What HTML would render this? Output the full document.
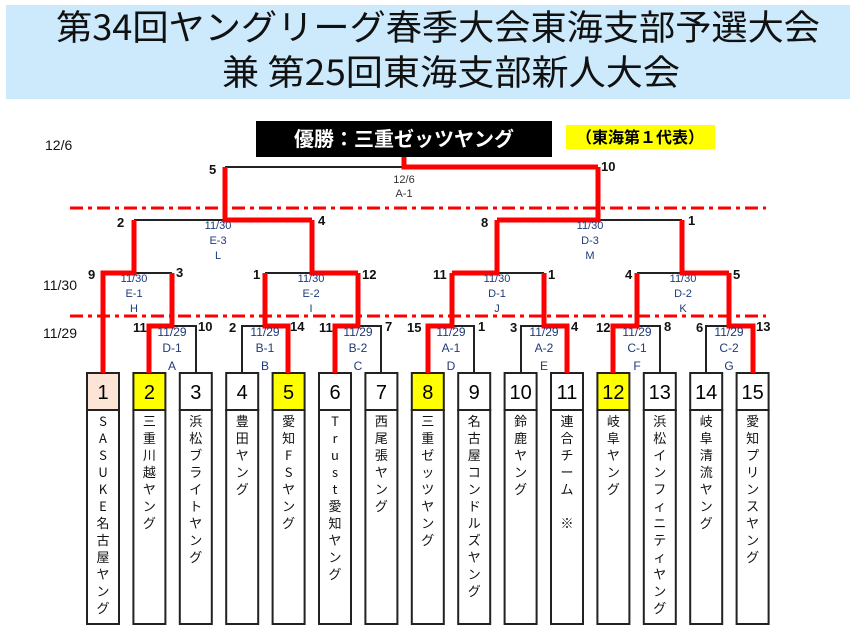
<!DOCTYPE html>
<html><head><meta charset="utf-8">
<style>
html,body{margin:0;padding:0;background:#fff;}
body{width:856px;height:628px;overflow:hidden;position:relative;font-family:"Liberation Sans","Noto Sans CJK JP",sans-serif;}
svg{position:absolute;left:0;top:0;}
</style></head><body>
<svg width="856" height="628" viewBox="0 0 856 628" xmlns="http://www.w3.org/2000/svg" font-family="Liberation Sans, Noto Sans CJK JP, sans-serif">
<rect x="6" y="5" width="844" height="94" fill="#cdeafc"/>
<g font-family="Noto Sans CJK JP, sans-serif" font-size="35" fill="#111" text-anchor="middle">
<text x="438" y="40" textLength="764" lengthAdjust="spacingAndGlyphs">第34回ヤングリーグ春季大会東海支部予選大会</text>
<text x="451" y="85" textLength="458" lengthAdjust="spacingAndGlyphs">兼 第25回東海支部新人大会</text>
</g>
<rect x="256" y="121" width="296" height="36" fill="#000"/>
<text x="404" y="146" font-family="Noto Sans CJK JP, sans-serif" font-size="20" font-weight="bold" fill="#fff" text-anchor="middle">優勝：三重ゼッツヤング</text>
<rect x="566" y="125" width="149" height="24" fill="#ffff00"/>
<text x="640" y="143" font-family="Noto Sans CJK JP, sans-serif" font-size="16" font-weight="bold" fill="#000" text-anchor="middle">（東海第１代表）</text>
<g font-size="14" fill="#111">
<text x="45" y="150">12/6</text>
<text x="43" y="290">11/30</text>
<text x="43" y="338">11/29</text>
</g>
<g stroke="#ff0000" stroke-width="3" stroke-dasharray="13,5,4,5" fill="none">
<line x1="70" y1="208" x2="766" y2="208"/>
<line x1="70" y1="316" x2="766" y2="316"/>
</g>
<g stroke="#222" stroke-width="2">
<rect x="87" y="373" width="32" height="37" fill="#fce4d6"/>
<rect x="133.4" y="373" width="32" height="37" fill="#ffff00"/>
<rect x="179.8" y="373" width="32" height="37" fill="#fff"/>
<rect x="226.2" y="373" width="32" height="37" fill="#fff"/>
<rect x="272.6" y="373" width="32" height="37" fill="#ffff00"/>
<rect x="319" y="373" width="32" height="37" fill="#fff"/>
<rect x="365.4" y="373" width="32" height="37" fill="#fff"/>
<rect x="411.8" y="373" width="32" height="37" fill="#ffff00"/>
<rect x="458.2" y="373" width="32" height="37" fill="#fff"/>
<rect x="504.6" y="373" width="32" height="37" fill="#fff"/>
<rect x="551" y="373" width="32" height="37" fill="#fff"/>
<rect x="597.4" y="373" width="32" height="37" fill="#ffff00"/>
<rect x="643.8" y="373" width="32" height="37" fill="#fff"/>
<rect x="690.2" y="373" width="32" height="37" fill="#fff"/>
<rect x="736.6" y="373" width="32" height="37" fill="#fff"/>
<g fill="#fff">
<rect x="87" y="410" width="32" height="214"/><rect x="133.4" y="410" width="32" height="214"/><rect x="179.8" y="410" width="32" height="214"/><rect x="226.2" y="410" width="32" height="214"/><rect x="272.6" y="410" width="32" height="214"/><rect x="319" y="410" width="32" height="214"/><rect x="365.4" y="410" width="32" height="214"/><rect x="411.8" y="410" width="32" height="214"/><rect x="458.2" y="410" width="32" height="214"/><rect x="504.6" y="410" width="32" height="214"/><rect x="551" y="410" width="32" height="214"/><rect x="597.4" y="410" width="32" height="214"/><rect x="643.8" y="410" width="32" height="214"/><rect x="690.2" y="410" width="32" height="214"/><rect x="736.6" y="410" width="32" height="214"/>
</g></g>
<g font-size="20" fill="#000" text-anchor="middle">
<text x="103" y="399">1</text><text x="149.4" y="399">2</text><text x="195.8" y="399">3</text><text x="242.2" y="399">4</text><text x="288.6" y="399">5</text><text x="335" y="399">6</text><text x="381.4" y="399">7</text><text x="427.8" y="399">8</text><text x="474.2" y="399">9</text><text x="520.6" y="399">10</text><text x="567" y="399">11</text><text x="613.4" y="399">12</text><text x="659.8" y="399">13</text><text x="706.2" y="399">14</text><text x="752.6" y="399">15</text>
</g>
<g font-family="Noto Sans CJK JP, sans-serif" font-size="13" fill="#111" text-anchor="middle">
<text x="103" y="426">S</text><text x="103" y="443">A</text><text x="103" y="460">S</text><text x="103" y="477">U</text><text x="103" y="494">K</text><text x="103" y="511">E</text><text x="103" y="528">名</text><text x="103" y="545">古</text><text x="103" y="562">屋</text><text x="103" y="579">ヤ</text><text x="103" y="596">ン</text><text x="103" y="613">グ</text>
<text x="149.4" y="426">三</text><text x="149.4" y="443">重</text><text x="149.4" y="460">川</text><text x="149.4" y="477">越</text><text x="149.4" y="494">ヤ</text><text x="149.4" y="511">ン</text><text x="149.4" y="528">グ</text>
<text x="195.8" y="426">浜</text><text x="195.8" y="443">松</text><text x="195.8" y="460">ブ</text><text x="195.8" y="477">ラ</text><text x="195.8" y="494">イ</text><text x="195.8" y="511">ト</text><text x="195.8" y="528">ヤ</text><text x="195.8" y="545">ン</text><text x="195.8" y="562">グ</text>
<text x="242.2" y="426">豊</text><text x="242.2" y="443">田</text><text x="242.2" y="460">ヤ</text><text x="242.2" y="477">ン</text><text x="242.2" y="494">グ</text>
<text x="288.6" y="426">愛</text><text x="288.6" y="443">知</text><text x="288.6" y="460">F</text><text x="288.6" y="477">S</text><text x="288.6" y="494">ヤ</text><text x="288.6" y="511">ン</text><text x="288.6" y="528">グ</text>
<text x="335" y="426">T</text><text x="335" y="443">r</text><text x="335" y="460">u</text><text x="335" y="477">s</text><text x="335" y="494">t</text><text x="335" y="511">愛</text><text x="335" y="528">知</text><text x="335" y="545">ヤ</text><text x="335" y="562">ン</text><text x="335" y="579">グ</text>
<text x="381.4" y="426">西</text><text x="381.4" y="443">尾</text><text x="381.4" y="460">張</text><text x="381.4" y="477">ヤ</text><text x="381.4" y="494">ン</text><text x="381.4" y="511">グ</text>
<text x="427.8" y="426">三</text><text x="427.8" y="443">重</text><text x="427.8" y="460">ゼ</text><text x="427.8" y="477">ッ</text><text x="427.8" y="494">ツ</text><text x="427.8" y="511">ヤ</text><text x="427.8" y="528">ン</text><text x="427.8" y="545">グ</text>
<text x="474.2" y="426">名</text><text x="474.2" y="443">古</text><text x="474.2" y="460">屋</text><text x="474.2" y="477">コ</text><text x="474.2" y="494">ン</text><text x="474.2" y="511">ド</text><text x="474.2" y="528">ル</text><text x="474.2" y="545">ズ</text><text x="474.2" y="562">ヤ</text><text x="474.2" y="579">ン</text><text x="474.2" y="596">グ</text>
<text x="520.6" y="426">鈴</text><text x="520.6" y="443">鹿</text><text x="520.6" y="460">ヤ</text><text x="520.6" y="477">ン</text><text x="520.6" y="494">グ</text>
<text x="567" y="426">連</text><text x="567" y="443">合</text><text x="567" y="460">チ</text><text x="567" y="477">ー</text><text x="567" y="494">ム</text><text x="567" y="528">※</text>
<text x="613.4" y="426">岐</text><text x="613.4" y="443">阜</text><text x="613.4" y="460">ヤ</text><text x="613.4" y="477">ン</text><text x="613.4" y="494">グ</text>
<text x="659.8" y="426">浜</text><text x="659.8" y="443">松</text><text x="659.8" y="460">イ</text><text x="659.8" y="477">ン</text><text x="659.8" y="494">フ</text><text x="659.8" y="511">ィ</text><text x="659.8" y="528">ニ</text><text x="659.8" y="545">テ</text><text x="659.8" y="562">ィ</text><text x="659.8" y="579">ヤ</text><text x="659.8" y="596">ン</text><text x="659.8" y="613">グ</text>
<text x="706.2" y="426">岐</text><text x="706.2" y="443">阜</text><text x="706.2" y="460">清</text><text x="706.2" y="477">流</text><text x="706.2" y="494">ヤ</text><text x="706.2" y="511">ン</text><text x="706.2" y="528">グ</text>
<text x="752.6" y="426">愛</text><text x="752.6" y="443">知</text><text x="752.6" y="460">プ</text><text x="752.6" y="477">リ</text><text x="752.6" y="494">ン</text><text x="752.6" y="511">ス</text><text x="752.6" y="528">ヤ</text><text x="752.6" y="545">ン</text><text x="752.6" y="562">グ</text>
</g>
<g stroke="#222" stroke-width="2" fill="none">
<polyline points="149,373 149,326 196,326 196,373"/>
<polyline points="242,373 242,326 289,326 289,373"/>
<polyline points="335,373 335,326 381,326 381,373"/>
<polyline points="428,373 428,326 474,326 474,373"/>
<polyline points="521,373 521,326 567,326 567,373"/>
<polyline points="613,373 613,326 660,326 660,373"/>
<polyline points="706,373 706,326 753,326 753,373"/>
<line x1="103" y1="273" x2="172" y2="273"/>
<line x1="265" y1="273" x2="358" y2="273"/>
<line x1="452" y1="273" x2="544" y2="273"/>
<line x1="637" y1="273" x2="729" y2="273"/>
<line x1="134" y1="220" x2="312" y2="220"/>
<line x1="497" y1="220" x2="682" y2="220"/>
<line x1="225" y1="167" x2="598" y2="167"/>
</g>
<g stroke="#ff0000" stroke-width="5" fill="none" stroke-linejoin="miter">
<polyline points="149,373 149,326 172,326 172,273"/>
<polyline points="288,373 288,326 265,326 265,273"/>
<polyline points="335,373 335,326 358,326 358,273"/>
<polyline points="428,373 428,326 452,326 452,273"/>
<polyline points="567,373 567,326 544,326 544,273"/>
<polyline points="613,373 613,326 637,326 637,273"/>
<polyline points="753,373 753,326 729,326 729,273"/>
<polyline points="103,373 103,273 134,273 134,220"/>
<polyline points="358,273 312,273 312,220"/>
<polyline points="452,273 497,273 497,220"/>
<polyline points="729,273 682,273 682,220"/>
<polyline points="312,220 225,220 225,167"/>
<polyline points="497,220 598,220 598,167"/>
<polyline points="598,167 404,167 404,157"/>
</g>
<g font-size="13" font-weight="bold" fill="#111">
<text x="209" y="174">5</text><text x="601" y="171">10</text>
<text x="117" y="227">2</text><text x="318" y="225">4</text>
<text x="481" y="227">8</text><text x="688" y="225">1</text>
<text x="88" y="279">9</text><text x="176" y="277">3</text>
<text x="253" y="279">1</text><text x="362" y="279">12</text>
<text x="433" y="279">11</text><text x="548" y="279">1</text>
<text x="625" y="279">4</text><text x="733" y="279">5</text>
<text x="133" y="332">11</text><text x="198" y="331">10</text>
<text x="229" y="332">2</text><text x="290" y="331">14</text>
<text x="319" y="332">11</text><text x="385" y="331">7</text>
<text x="407" y="332">15</text><text x="478" y="331">1</text>
<text x="510" y="332">3</text><text x="571" y="331">4</text>
<text x="596" y="332">12</text><text x="664" y="331">8</text>
<text x="696" y="332">6</text><text x="756" y="331">13</text>
</g>
<g font-size="11" fill="#1f3a7a" text-anchor="middle">
<text x="404" y="183" fill="#333">12/6</text><text x="404" y="197" fill="#333">A-1</text>
<text x="218" y="229">11/30</text><text x="218" y="244">E-3</text><text x="218" y="259">L</text>
<text x="590" y="229">11/30</text><text x="590" y="244">D-3</text><text x="590" y="259">M</text>
<text x="134" y="282">11/30</text><text x="134" y="297">E-1</text><text x="134" y="312">H</text>
<text x="311" y="282">11/30</text><text x="311" y="297">E-2</text><text x="311" y="312">I</text>
<text x="497" y="282">11/30</text><text x="497" y="297">D-1</text><text x="497" y="312">J</text>
<text x="683" y="282">11/30</text><text x="683" y="297">D-2</text><text x="683" y="312">K</text>
</g>
<g font-size="12" fill="#1f3a7a" text-anchor="middle">
<text x="172" y="336">11/29</text><text x="172" y="352">D-1</text><text x="172" y="370">A</text>
<text x="265" y="336">11/29</text><text x="265" y="352">B-1</text><text x="265" y="370">B</text>
<text x="358" y="336">11/29</text><text x="358" y="352">B-2</text><text x="358" y="370">C</text>
<text x="451" y="336">11/29</text><text x="451" y="352">A-1</text><text x="451" y="370">D</text>
<text x="544" y="336">11/29</text><text x="544" y="352">A-2</text><text x="544" y="370">E</text>
<text x="637" y="336">11/29</text><text x="637" y="352">C-1</text><text x="637" y="370">F</text>
<text x="729" y="336">11/29</text><text x="729" y="352">C-2</text><text x="729" y="370">G</text>
</g>
</svg>
</body></html>
